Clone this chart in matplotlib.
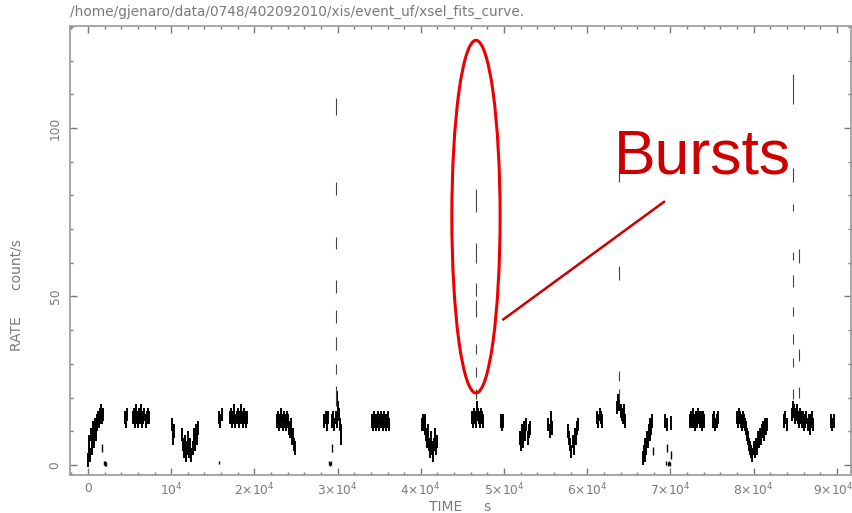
import numpy as np
import matplotlib
matplotlib.use("Agg")
import matplotlib.pyplot as plt
import matplotlib.transforms as mtransforms
from matplotlib.patches import Ellipse

# persistent emission: (start, end) of each good-time chunk in s, and the binned rates inside it
persist_spans = [
    (0, 1750), (4450, 4700), (5400, 7300), (10100, 10350), (11300, 13200),
    (15750, 16100), (17100, 19100), (22700, 24900), (28400, 28850), (29300, 29900),
    (29950, 30450), (34100, 36200), (40100, 41950), (46150, 47500), (49650, 49900),
    (51900, 53100), (55300, 55800), (57700, 58900), (61200, 61800), (63600, 64550),
    (66700, 67800), (69350, 69600), (70100, 70150), (72350, 74050), (75100, 75700),
    (78000, 81600), (83650, 84000), (84600, 87100), (89300, 89650),
]
persist_rates = [
    [1.5, 4, 7, 3, 9, 5, 8, 11, 7, 10, 12, 9, 13, 12, 14, 13, 15, 14, 16, 14, 15],
    [14, 13, 15],
    [14, 15, 13, 16, 14, 13, 15, 14, 16, 13, 14, 15, 13, 14, 15, 14],
    [12, 8, 10],
    [9, 6, 4, 7, 3, 5, 8, 4, 6, 3, 5, 9, 6, 10, 8, 11],
    [14, 13, 15],
    [14, 15, 13, 14, 16, 13, 14, 15, 13, 14, 16, 14, 13, 15, 14, 13, 14],
    [13, 14, 12, 13, 15, 13, 12, 14, 13, 12, 14, 13, 11, 10, 12, 8, 9, 6, 5],
    [13, 14, 12, 14],
    [13, 14, 12, 14, 13],
    [20, 17, 15, 12, 10, 8],
    [13, 12, 14, 13, 12, 13, 14, 12, 13, 14, 13, 12, 14, 13, 12, 13, 14, 12],
    [12, 13, 12, 11, 13, 9, 7, 10, 6, 4, 8, 5, 3, 6, 9, 5, 7],
    [14, 13, 15, 14, 13, 17, 15, 14, 13, 15, 14, 13],
    [13, 12, 13],
    [8, 6, 10, 7, 11, 9, 12, 8, 10, 11],
    [12, 10, 14, 11],
    [10, 8, 6, 4, 7, 5, 9, 8, 11, 12],
    [14, 13, 15, 14, 13],
    [17, 19, 18, 16, 15, 14, 16, 13],
    [2, 4, 3, 6, 5, 8, 7, 10, 9, 12, 11, 13],
    [13, 12],
    [12.5],
    [13, 14, 13, 15, 13, 12, 14, 13, 15, 14, 13, 14, 12, 14, 13],
    [13, 14, 12, 13, 14],
    [14, 13, 15, 14, 13, 12, 14, 13, 12, 11, 9, 8, 6, 5, 4,
     3, 5, 4, 6, 5, 8, 7, 9, 8, 10, 11, 9, 12, 11, 12],
    [13, 14, 12],
    [15, 17, 16, 14, 15, 16, 14, 13, 15, 14, 13, 14, 12, 13, 14, 12, 13, 11, 13, 14, 12],
    [13, 12, 13],
]
persist_err = 2.0

# stray low bins (near zero and isolated points)
low_times = [1680, 1900, 2000, 2100, 2200, 15750, 28950, 29100, 29250, 29330,
             67850, 69600, 69500, 69700, 69850, 70000, 70100]
low_rates = [5, 0.5, 0.4, 0.5, 0.4, 0.8, 0.5, 0.4, 0.5, 5,
             4, 5, 0.5, 0.4, 0.5, 0.4, 3]
low_errs = [1.2, 0.6, 0.6, 0.6, 0.6, 0.5, 0.6, 0.6, 0.6, 1.2,
            1.2, 1.2, 0.6, 0.6, 0.6, 0.6, 1.2]

# type I bursts: one time column, successive bins of the decay
burst_times = [29800, 46600, 63800, 84700, 85400]
burst_rates = [
    [106.5, 82, 66, 53, 44, 36, 28.5, 22, 19],
    [78.5, 63, 52, 46.5, 34.5, 27.5, 21],
    [86, 57, 26.5, 21],
    [111.5, 86, 76.5, 62, 54.5, 45.5, 37.5, 30.5, 21],
    [62, 32.5, 21.5],
]
burst_errs = [
    [2.5, 2, 1.8, 2, 2, 2, 1.5, 1.5, 1.5],
    [3.5, 3, 2, 2.5, 1.5, 1.5, 1.5],
    [2, 2, 1.5, 1.5],
    [4.5, 2, 1, 1.3, 1.8, 1.3, 1.5, 1.3, 1.5],
    [2, 1.8, 1.5],
]

xtick_vals = [0, 10000, 20000, 30000, 40000, 50000, 60000, 70000, 80000, 90000]
xtick_labels = ["0", r"$10^4$"] + [r"$%d{\times}10^4$" % k for k in range(2, 10)]
ytick_vals = [0, 50, 100]

grey = "#7a7a7a"
plt.rcParams["font.family"] = ["DejaVu Sans"]
plt.rcParams["mathtext.fontset"] = "dejavusans"

fig = plt.figure(figsize=(8.52, 5.13), dpi=100)
ax = fig.add_axes([70 / 852, 38 / 513, 781 / 852, 449 / 513])

# persistent data
for (t0, t1), rates in zip(persist_spans, persist_rates):
    r = np.array(rates, dtype=float)
    t = np.linspace(t0, t1, len(r))
    ax.vlines(t, r - persist_err, r + persist_err, color="black", lw=1.4)

ax.vlines(low_times, np.array(low_rates) - np.array(low_errs),
          np.array(low_rates) + np.array(low_errs), color="black", lw=1.0)

for bt, rates, errs in zip(burst_times, burst_rates, burst_errs):
    r = np.array(rates)
    e = np.array(errs)
    ax.vlines(np.full(len(r), bt), r - e, r + e, color="#444444", lw=0.8)

ax.set_xlim(-2160, 91700)
ax.set_ylim(-3, 130.3)

ax.set_xticks(xtick_vals)
ax.set_xticklabels(xtick_labels)
ax.set_xticks(np.arange(-2000, 91701, 2000), minor=True)
ax.set_yticks(ytick_vals)
ax.set_yticklabels([str(v) for v in ytick_vals], rotation=90, va="center")
ax.set_yticks(np.arange(0, 131, 10), minor=True)

ax.tick_params(which="both", direction="in", top=True, right=True,
               color=grey, labelcolor=grey, labelsize=8.8)
ax.tick_params(which="major", length=5, width=1)
ax.tick_params(which="minor", length=2.5, width=1)
ax.tick_params(axis="x", pad=5)
ax.tick_params(axis="y", pad=6)
for s in ax.spines.values():
    s.set_color("#a0a0a0")
    s.set_linewidth(1.3)

# last x label sits at the right edge of the figure, nudge it in a little
last = ax.get_xticklabels()[-1]
last.set_transform(last.get_transform() +
                   mtransforms.ScaledTranslation(-4 / 100, 0, fig.dpi_scale_trans))

ax.set_xlabel("TIME     s", color=grey, fontsize=10)
ax.xaxis.set_label_coords(0.5, -0.056)
ax.set_ylabel("RATE      count/s", color=grey, fontsize=10)
ax.yaxis.set_label_coords(-0.060, 0.40)

fig.text(70 / 852, 1 - 12 / 513,
         "/home/gjenaro/data/0748/402092010/xis/event_uf/xsel_fits_curve.",
         color=grey, fontsize=9.8, ha="left", va="center")

# annotation
ax.add_patch(Ellipse((46630, 73.7), width=5800, height=104.7, fill=False,
                     ec="#ee0000", lw=2.2, zorder=5))
ax.plot([49920, 69230], [43.2, 78.1], color="#cc0000", lw=1.8, zorder=5)
ax.text(63220, 86.4, "Bursts", color="#cc0000", fontsize=45,
        family="Liberation Sans", ha="left", va="baseline", zorder=6)

fig.savefig("out.png", dpi=100)
